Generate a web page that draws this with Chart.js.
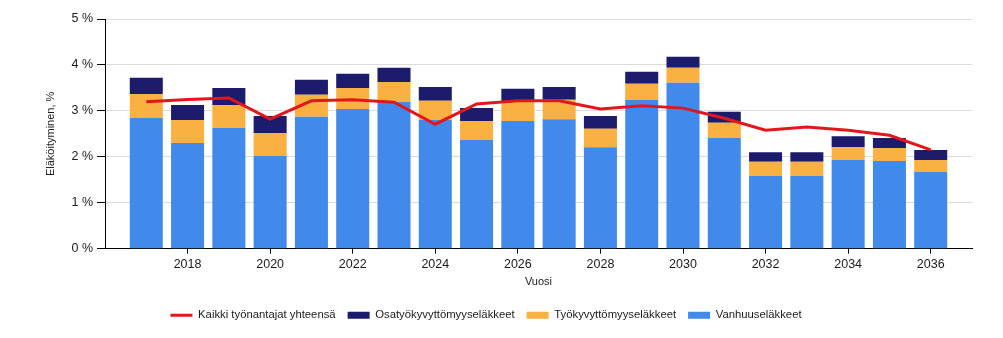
<!DOCTYPE html>
<html>
<head>
<meta charset="utf-8">
<script src="https://cdn.jsdelivr.net/npm/chart.js@4/dist/chart.umd.min.js"></script>
<style>
  body { margin: 0; background: #fff; }
</style>
</head>
<body>
<canvas id="elakoityminen" width="1003" height="338"></canvas>
<script>
// vuodet ja x-akselin tikit
const years = [2017, 2018, 2019, 2020, 2021, 2022, 2023, 2024, 2025, 2026,
               2027, 2028, 2029, 2030, 2031, 2032, 2033, 2034, 2035, 2036];
const tickYears = [2018, 2020, 2022, 2024, 2026, 2028, 2030, 2032, 2034, 2036];

// eläköityminen, % (pinotut palkit)
const vanhuus = [2.85, 2.30, 2.63, 2.02, 2.87, 3.04, 3.20, 2.80, 2.37, 2.78,
                 2.82, 2.21, 3.24, 3.61, 2.41, 1.58, 1.58, 1.93, 1.91, 1.67];
const tyokyvyttomyys = [0.52, 0.50, 0.50, 0.50, 0.48, 0.46, 0.43, 0.42, 0.41, 0.42,
                        0.42, 0.40, 0.35, 0.33, 0.33, 0.31, 0.31, 0.28, 0.28, 0.26];
const osatyokyvyttomyys = [0.35, 0.33, 0.37, 0.37, 0.33, 0.31, 0.31, 0.30, 0.28, 0.28,
                           0.28, 0.28, 0.26, 0.24, 0.24, 0.21, 0.21, 0.24, 0.22, 0.22];
// kaikki työnantajat yhteensä (viiva)
const yhteensa = [3.20, 3.25, 3.28, 2.82, 3.22, 3.24, 3.19, 2.71, 3.15, 3.22,
                  3.22, 3.04, 3.11, 3.06, 2.84, 2.58, 2.65, 2.58, 2.47, 2.15];

const fontFamily = '"Liberation Sans", Arial, sans-serif';
const textColor = '#1a1a1a';

// legendan järjestys: viiva, osatyökyvyttömyys, työkyvyttömyys, vanhuus
const legendRank = [0, 3, 2, 1];

new Chart(document.getElementById('elakoityminen').getContext('2d'), {
  type: 'bar',
  data: {
    labels: years,
    datasets: [
      {
        type: 'line',
        label: 'Kaikki työnantajat yhteensä',
        data: yhteensa,
        borderColor: '#e3171b',
        backgroundColor: '#e3171b',
        borderWidth: 3,
        pointRadius: 0,
        tension: 0,
        stack: 'line',
        order: 0
      },
      {
        label: 'Vanhuuseläkkeet',
        data: vanhuus,
        backgroundColor: '#418aeb',
        stack: 'bars',
        order: 1
      },
      {
        label: 'Työkyvyttömyyseläkkeet',
        data: tyokyvyttomyys,
        backgroundColor: '#fbb141',
        stack: 'bars',
        order: 1
      },
      {
        label: 'Osatyökyvyttömyyseläkkeet',
        data: osatyokyvyttomyys,
        backgroundColor: '#1c1b6c',
        stack: 'bars',
        order: 1
      }
    ]
  },
  options: {
    responsive: false,
    animation: false,
    categoryPercentage: 0.8,
    barPercentage: 1.0,
    layout: { padding: { top: 19, right: 31, left: 0, bottom: 7 } },
    scales: {
      x: {
        type: 'linear',
        min: 2016,
        max: 2037,
        offset: false,
        afterBuildTicks: (scale) => { scale.ticks = tickYears.map(v => ({ value: v })); },
        afterFit: (scale) => { scale.height = 49; },
        ticks: {
          autoSkip: false,
          maxRotation: 0,
          padding: 3,
          color: textColor,
          font: { family: fontFamily, size: 12.5 },
          callback: (v) => String(v)
        },
        grid: { drawOnChartArea: false, offset: false, tickLength: 5, tickColor: '#000' },
        border: { color: '#000', width: 1 },
        title: {
          display: true,
          text: 'Vuosi',
          color: textColor,
          font: { family: fontFamily, size: 11 },
          padding: { top: 4, bottom: 9 }
        }
      },
      y: {
        stacked: true,
        min: 0,
        max: 5,
        afterFit: (scale) => { scale.width = 105; },
        ticks: {
          stepSize: 1,
          padding: 4,
          color: textColor,
          font: { family: fontFamily, size: 12.5 },
          callback: (v) => v + ' %'
        },
        grid: { color: '#dcdcdc', tickLength: 8, tickColor: '#000' },
        border: { color: '#000', width: 1 },
        title: {
          display: true,
          text: 'Eläköityminen, %',
          color: textColor,
          font: { family: fontFamily, size: 11 },
          padding: { top: 44, bottom: 0 }
        }
      }
    },
    plugins: {
      tooltip: { enabled: false },
      legend: {
        position: 'bottom',
        labels: {
          usePointStyle: true,
          pointStyleWidth: 22,
          boxHeight: 7,
          padding: 12,
          color: textColor,
          font: { family: fontFamily, size: 11.3 },
          sort: (a, b) => legendRank[a.datasetIndex] - legendRank[b.datasetIndex],
          generateLabels: (chart) => {
            const items = Chart.defaults.plugins.legend.labels.generateLabels(chart);
            items.forEach(item => {
              if (item.datasetIndex === 0) {
                item.pointStyle = 'line';
                item.lineWidth = 3;
              } else {
                item.pointStyle = 'rect';
                item.lineWidth = 0;
              }
            });
            return items;
          }
        }
      }
    }
  }
});
</script>
</body>
</html>
